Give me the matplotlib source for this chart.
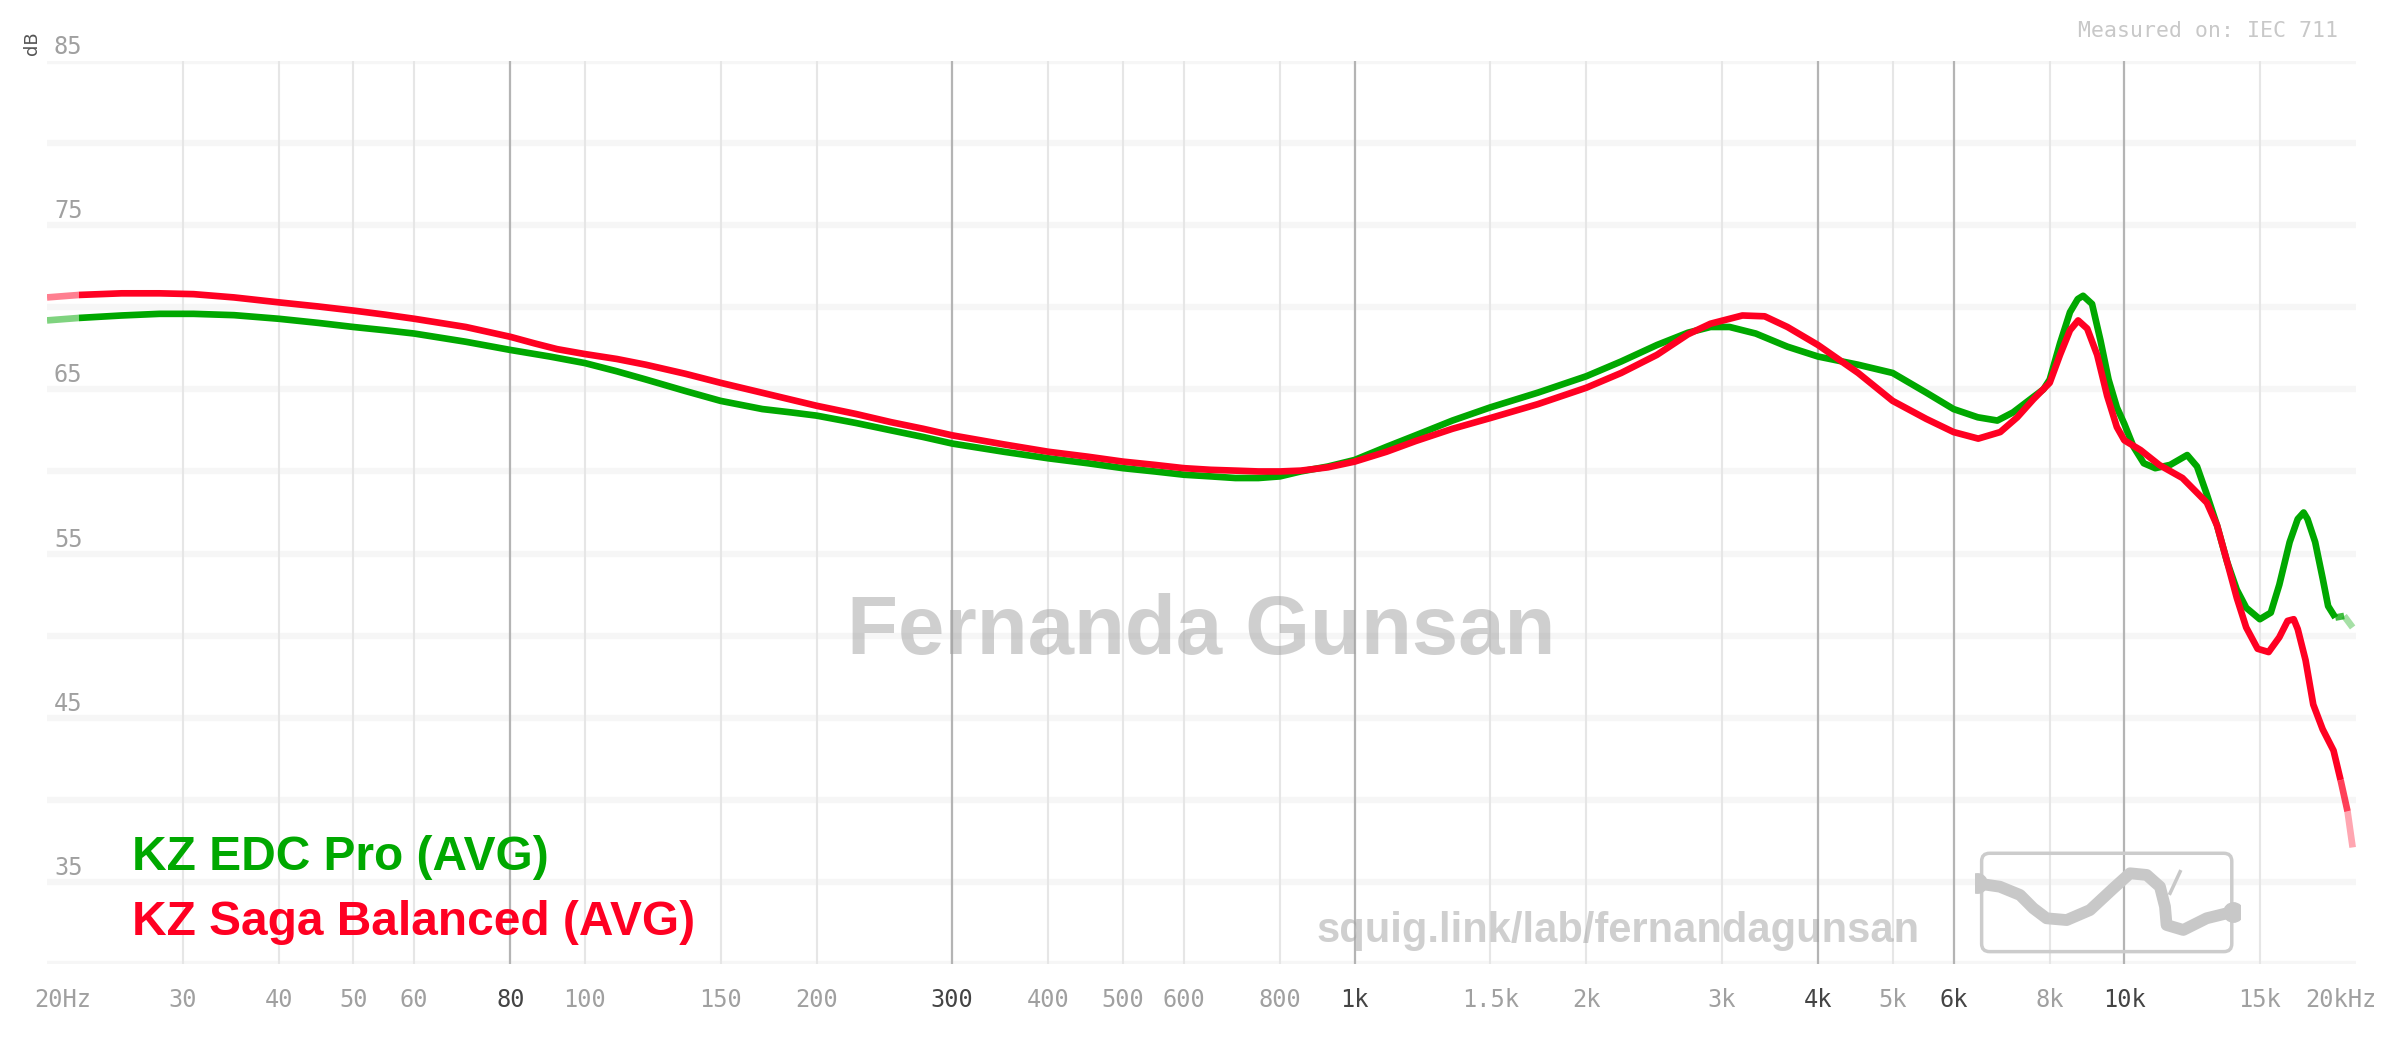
import numpy as np
import matplotlib
matplotlib.use("Agg")
from matplotlib import pyplot as plt
from matplotlib.collections import LineCollection
from matplotlib.patches import FancyBboxPatch
import matplotlib.colors as mcolors

# frequency response (Hz, dB)
edc_freq = [20, 22, 25, 28, 31, 35, 40, 45, 50, 55, 60, 70, 80, 90, 100, 110, 120, 135, 150, 170,
            185, 200, 225, 250, 275, 300, 350, 400, 450, 500, 550, 600, 650, 700, 750, 800, 851,
            923, 1000, 1100, 1200, 1340, 1500, 1730, 2000, 2220, 2470, 2710, 2900, 3070, 3320,
            3650, 4000, 4510, 5000, 5530, 6000, 6450, 6840, 7170, 7550, 7850, 8000, 8250, 8500,
            8700, 8840, 9080, 9310, 9540, 9780, 10000, 10280, 10600, 10970, 11470, 12070, 12430,
            12800, 13200, 13600, 14000, 14400, 15000, 15500, 15900, 16400, 16800, 17100, 17300,
            17700, 18100, 18400, 18800, 19300, 19800]
edc_db = [69.2, 69.35, 69.5, 69.6, 69.6, 69.52, 69.3, 69.05, 68.8, 68.6, 68.4, 67.9, 67.4, 67.0,
          66.6, 66.1, 65.6, 64.9, 64.3, 63.8, 63.6, 63.4, 62.95, 62.5, 62.1, 61.7, 61.2, 60.8,
          60.5, 60.2, 60.0, 59.8, 59.7, 59.6, 59.6, 59.7, 60.0, 60.3, 60.7, 61.5, 62.2, 63.1,
          63.9, 64.8, 65.8, 66.7, 67.7, 68.45, 68.8, 68.8, 68.4, 67.6, 67.0, 66.5, 66.0, 64.8,
          63.8, 63.3, 63.1, 63.6, 64.4, 65.0, 65.6, 67.8, 69.7, 70.5, 70.7, 70.2, 68.0, 65.6,
          63.9, 62.9, 61.5, 60.5, 60.2, 60.4, 61.0, 60.3, 58.6, 56.7, 54.5, 52.8, 51.7, 51.0,
          51.4, 53.1, 55.7, 57.1, 57.5, 57.1, 55.7, 53.5, 51.8, 51.1, 51.2, 50.5]

saga_freq = [20, 22, 25, 28, 31, 35, 40, 45, 50, 55, 60, 70, 80, 86, 92, 100, 110, 120, 135, 150,
             175, 200, 225, 250, 275, 300, 350, 400, 450, 500, 550, 600, 650, 700, 750, 800, 851,
             923, 1000, 1100, 1200, 1340, 1500, 1730, 2000, 2220, 2470, 2710, 2900, 3190, 3410,
             3650, 4000, 4510, 5000, 5530, 6000, 6460, 6900, 7260, 7620, 8000, 8250, 8500, 8710,
             8950, 9220, 9500, 9780, 10000, 10500, 11100, 11900, 12800, 13200, 13600, 14000,
             14400, 14900, 15400, 15900, 16300, 16600, 16800, 17200, 17600, 18100, 18700, 19100,
             19500, 19800]
saga_db = [70.6, 70.75, 70.85, 70.85, 70.8, 70.6, 70.3, 70.05, 69.8, 69.55, 69.3, 68.8, 68.2,
           67.8, 67.45, 67.15, 66.85, 66.5, 65.95, 65.4, 64.65, 64.0, 63.5, 63.0, 62.6, 62.2,
           61.65, 61.2, 60.9, 60.6, 60.4, 60.2, 60.1, 60.05, 60.0, 60.0, 60.05, 60.25, 60.6,
           61.2, 61.85, 62.6, 63.25, 64.1, 65.1, 66.0, 67.1, 68.35, 69.0, 69.5, 69.45, 68.8, 67.7,
           66.0, 64.3, 63.2, 62.4, 62.0, 62.4, 63.3, 64.4, 65.4, 67.1, 68.6, 69.2, 68.7, 67.1,
           64.6, 62.7, 61.9, 61.3, 60.4, 59.6, 58.1, 56.7, 54.5, 52.3, 50.5, 49.2, 49.0, 49.9,
           50.9, 51.0, 50.4, 48.5, 45.8, 44.3, 43.0, 41.2, 39.3, 37.1]

names = ["KZ EDC Pro (AVG)", "KZ Saga Balanced (AVG)"]
colors = ["#00a800", "#ff0022"]

grid_light = [30, 40, 50, 60, 100, 150, 200, 400, 500, 600, 800, 1500, 2000, 3000, 5000, 8000, 15000]
grid_dark = [80, 300, 1000, 4000, 6000, 10000]
tick_pos = [20, 30, 40, 50, 60, 80, 100, 150, 200, 300, 400, 500, 600, 800,
            1000, 1500, 2000, 3000, 4000, 5000, 6000, 8000, 10000, 15000, 20000]
tick_txt = ["20Hz", "30", "40", "50", "60", "80", "100", "150", "200", "300", "400", "500", "600",
            "800", "1k", "1.5k", "2k", "3k", "4k", "5k", "6k", "8k", "10k", "15k", "20kHz"]
y_labels = [35, 45, 55, 65, 75, 85]

fig = plt.figure(figsize=(24, 10.38), dpi=100)
ax = fig.add_axes([47 / 2400, 74 / 1038, 2309 / 2400, 903 / 1038])
ax.set_xscale("log")
ax.set_xlim(20, 20000)
ax.set_ylim(30, 85)
for s in ax.spines.values():
    s.set_visible(False)
ax.set_xticks([])
ax.set_yticks([])
ax.minorticks_off()

for y in range(30, 90, 5):
    ax.axhline(y, color="#f6f6f6", lw=4.5, zorder=0)
for f in grid_light:
    ax.axvline(f, color="#e6e6e6", lw=1.5, zorder=0.5)
for f in grid_dark:
    ax.axvline(f, color="#b4b4b4", lw=1.6, zorder=0.5)

# x labels
for f, t in zip(tick_pos, tick_txt):
    dark = f in grid_dark
    off = 11.5 if f == 20 else (-11 if f == 20000 else 0)
    ax.annotate(t, (f, 30), xytext=(off, -26), textcoords="offset points",
                ha="center", va="center", family="DejaVu Sans Mono", fontsize=17,
                color="#444444" if dark else "#a0a0a0", annotation_clip=False)
# y labels
for v in y_labels:
    ax.annotate(str(v), (20, v), xytext=(5, 10), textcoords="offset points",
                ha="left", va="center", family="DejaVu Sans Mono", fontsize=17,
                color="#a0a0a0", annotation_clip=False)
fig.text(32 / 2400, 1 - 43 / 1038, "dB", rotation=90, ha="center", va="center",
         fontsize=13, color="#555555")
fig.text(2338 / 2400, 1 - 31 / 1038, "Measured on: IEC 711", ha="right", va="center",
         family="DejaVu Sans Mono", fontsize=15.5, color="#c8c8c8")

# watermarks
ax.text(0.5, 1 - (632 - 61) / 903, "Fernanda Gunsan", transform=ax.transAxes,
        ha="center", va="center", family="Liberation Sans", weight="bold", fontsize=60,
        color="#a0a0a0", alpha=0.5, zorder=1)
fig.text(1618 / 2400, 1 - 942 / 1038, "squig.link/lab/fernandagunsan", ha="center", va="baseline",
         family="Liberation Sans", weight="bold", fontsize=30, color="#a0a0a0", alpha=0.5)


def draw_curve(freq, db, color):
    f = np.array(freq, dtype=float)
    d = np.array(db, dtype=float)
    ax.plot(f[1:-2], d[1:-2], color=color, lw=4.8, solid_capstyle="butt",
            solid_joinstyle="round", zorder=3)
    pts = np.column_stack([f, d])
    segs = [pts[0:2], pts[-3:-1], pts[-2:]]
    alphas = [0.5, 0.75, 0.35]
    rgba = [mcolors.to_rgba(color, a) for a in alphas]
    lc = LineCollection(segs, colors=rgba, linewidths=4.8, capstyle="butt", zorder=3)
    ax.add_collection(lc)


draw_curve(edc_freq, edc_db, colors[0])
draw_curve(saga_freq, saga_db, colors[1])

# legend as coloured labels
fig.text(132 / 2400, 1 - 870 / 1038, names[0], ha="left", va="baseline",
         family="Liberation Sans", weight="bold", fontsize=34.5, color=colors[0])
fig.text(132 / 2400, 1 - 935 / 1038, names[1], ha="left", va="baseline",
         family="Liberation Sans", weight="bold", fontsize=34.5, color=colors[1])

# squig.link logo
lax = fig.add_axes([1975 / 2400, 1 - 958 / 1038, 265 / 2400, 110 / 1038])
lax.set_xlim(0, 1)
lax.set_ylim(0, 1)
lax.axis("off")
lax.add_patch(FancyBboxPatch((0.025, 0.058), 0.944, 0.894, boxstyle="round,pad=0,rounding_size=0.03",
                             fill=False, ec="#cccccc", lw=2.5, mutation_aspect=2.4))
sx = [0.006, 0.094, 0.170, 0.220, 0.270, 0.346, 0.434, 0.522, 0.585, 0.648, 0.698, 0.717,
      0.723, 0.786, 0.874, 0.975]
sy = [0.679, 0.648, 0.573, 0.452, 0.361, 0.345, 0.436, 0.633, 0.770, 0.755, 0.648, 0.467,
      0.300, 0.255, 0.361, 0.421]
lax.plot(sx, sy, color="#c8c8c8", lw=8.5, solid_capstyle="round", solid_joinstyle="round")
lax.plot([sx[0], sx[-1]], [sy[0], sy[-1]], "o", color="#c8c8c8", ms=14)
lax.plot([0.736, 0.774], [0.588, 0.785], color="#c8c8c8", lw=2.5)

fig.savefig("out.png", dpi=100, facecolor="white")
